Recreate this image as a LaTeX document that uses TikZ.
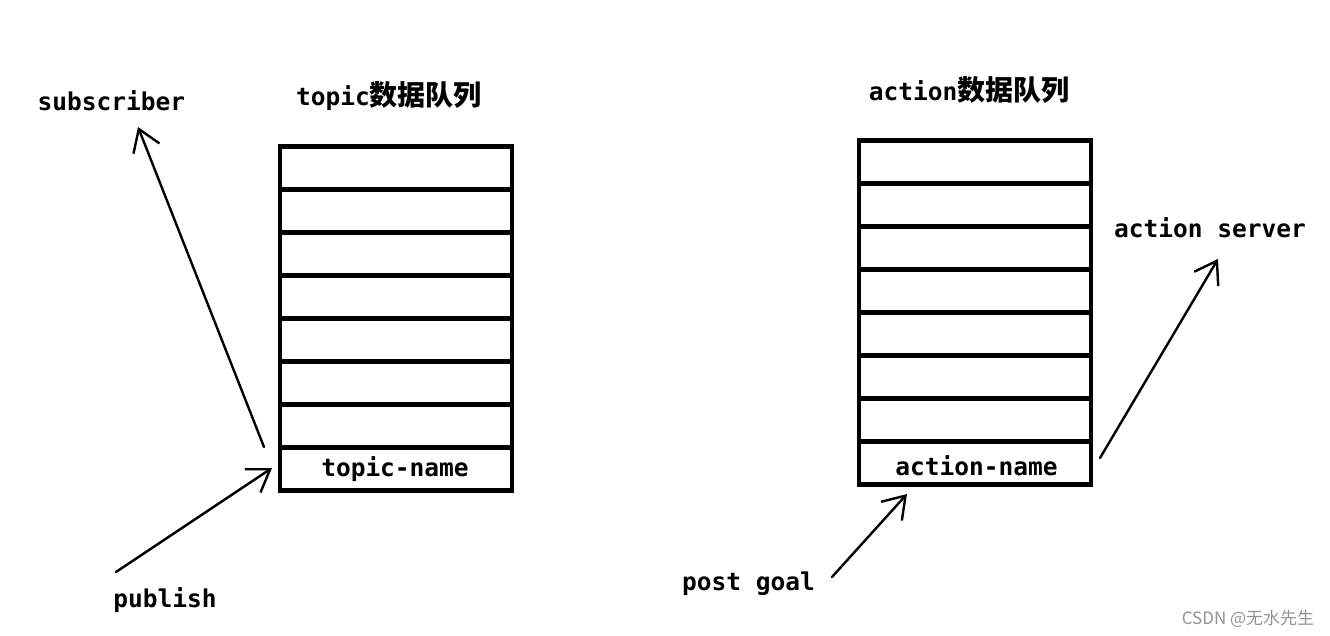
\documentclass[tikz,border=0pt]{standalone}
\usepackage{fontspec}
\setmonofont{DejaVu Sans Mono}
\newfontfamily\cjk{Noto Sans CJK SC}
\usetikzlibrary{arrows.meta}
\tikzset{
  cell/.style={draw, line width=4.5pt, minimum width=232pt, minimum height=43pt, inner sep=0pt, outer sep=0pt},
  lab/.style={font=\ttfamily\bfseries\fontsize{24.5}{28}\selectfont, inner sep=0pt, anchor=base},
  wm/.style={font=\cjk\fontsize{17}{20}\selectfont, text=black!42, inner sep=0pt, anchor=base},
  arr/.style={line width=2.4pt, line cap=round, -{Straight Barb[length=21pt,width=28pt,line width=2.4pt]}}
}
\newcommand{\zh}[1]{{\fontsize{28}{30}\selectfont\cjk\bfseries #1}}
\begin{document}
\begin{tikzpicture}[x=1pt,y=-1pt]
\useasboundingbox[fill=white] (0,0) rectangle (1330,636);
% stacks
\foreach \k in {1,...,8} {
  \node[cell] (t\k) at (396,{146.5+43*(\k-0.5)}) {};
  \node[cell] (a\k) at (975,{140.5+43*(\k-0.5)}) {};
}
% labels
\node[lab] (ttitle) at (389,106) {topic\zh{数据队列}};
\node[lab] (atitle) at (969,101) {action\zh{数据队列}};
\node[lab] (sub) at (111.5,111) {subscriber};
\node[lab] (pub) at (165,607) {publish};
\node[lab] (tname) at (395,476) {topic-name};
\node[lab] (aname) at (976.5,475) {action-name};
\node[lab] (goal) at (748.5,590) {post goal};
\node[lab] (server) at (1210,238) {action server};
\node[wm] (mark) at (1248,624) {CSDN @无水先生};
% arrow ends
\coordinate (pubTail) at (116,572);
\coordinate (pubTip) at (272,468);
\coordinate (subTail) at (264,447);
\coordinate (subTip) at (138,127);
\coordinate (goalTail) at (832,577);
\coordinate (goalTip) at (907,494);
\coordinate (srvTail) at (1100,458);
\coordinate (srvTip) at (1218,259);
\draw[arr] (pubTail) -- (pubTip);
\draw[arr] (subTail) -- (subTip);
\draw[arr] (goalTail) -- (goalTip);
\draw[arr] (srvTail) -- (srvTip);
\end{tikzpicture}
\end{document}
